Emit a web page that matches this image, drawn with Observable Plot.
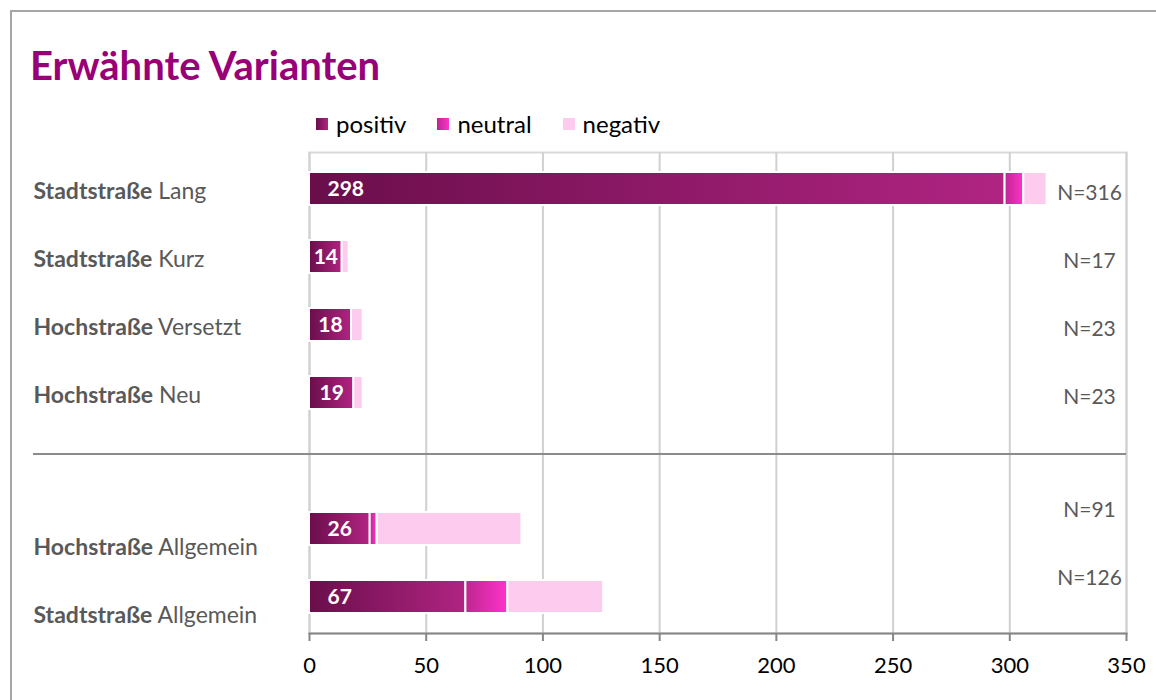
<!DOCTYPE html>
<html>
<head>
<meta charset="utf-8">
<script src="https://cdn.jsdelivr.net/npm/d3@7"></script>
<script src="https://cdn.jsdelivr.net/npm/@observablehq/plot@0.6"></script>
<style>
  body { margin: 0; background: #fff; font-family: Lato, "Open Sans", sans-serif; }
  #wrap { position: relative; width: 1156px; height: 700px; overflow: hidden; }
  #frame { position: absolute; left: 10px; top: 10px; width: 1300px; height: 900px; border: 2px solid #a6a6a6; box-sizing: border-box; }
  #title { position: absolute; left: 30px; top: 45px; font-size: 40px; font-weight: bold; color: #990077; line-height: 1; }
  #legend { position: absolute; left: 316px; top: 112px; font-size: 24px; color: #000; display: flex; line-height: 1; }
  #legend .item { display: flex; align-items: center; margin-right: 31px; }
  #legend .sw { width: 12px; height: 12px; margin-right: 8px; }
  #chart { position: absolute; left: 0; top: 140px; }
</style>
</head>
<body>
<div id="wrap">
  <div id="frame"></div>
  <div id="title">Erwähnte Varianten</div>
  <div id="legend"></div>
  <div id="chart"></div>
</div>
<script>
// ---- data ----
const categories = ["Stadtstraße Lang", "Stadtstraße Kurz", "Hochstraße Versetzt", "Hochstraße Neu", "Hochstraße Allgemein", "Stadtstraße Allgemein"];
const groups = ["oben", "oben", "oben", "oben", "unten", "unten"];
const positiv = [298, 14, 18, 19, 26, 67];
const neutral = [8, 0, 0, 0, 3, 18];
const negativ = [10, 3, 5, 4, 62, 41];
const totals = [316, 17, 23, 23, 91, 126];
const sentiments = ["positiv", "neutral", "negativ"];
const xTicks = [0, 50, 100, 150, 200, 250, 300, 350];

// ---- styles ----
const gradColors = {
  positiv: ["#6a0e4b", "#b02482"],
  neutral: ["#bd2690", "#ff33cc"],
  negativ: ["#fdcbee", "#fdcbee"]
};
const gradId = {positiv: "gPos", neutral: "gNeu", negativ: "gNeg"};
const SPACER = "";

const rows = categories.map((c, i) => ({cat: c, group: groups[i], pos: positiv[i], neu: neutral[i], neg: negativ[i], total: totals[i]}));
const bars = rows.flatMap(r => [
  {cat: r.cat, s: "positiv", value: r.pos},
  {cat: r.cat, s: "neutral", value: r.neu},
  {cat: r.cat, s: "negativ", value: r.neg}
]).filter(d => d.value > 0);

const yDomain = [...categories.slice(0, 4), SPACER, ...categories.slice(4)];

// legend
const legend = d3.select("#legend");
sentiments.forEach(s => {
  const it = legend.append("div").attr("class", "item");
  it.append("div").attr("class", "sw").style("background", `linear-gradient(to right, ${gradColors[s][0]}, ${gradColors[s][1]})`);
  it.append("span").text(s);
});

const plot = Plot.plot({
  width: 1156,
  height: 560,
  marginLeft: 309,
  marginRight: 30,
  marginTop: 12,
  marginBottom: 67,
  style: {fontFamily: "Lato, 'Open Sans', sans-serif", background: "transparent", overflow: "visible"},
  x: {domain: [0, 350], ticks: xTicks, label: null},
  y: {domain: yDomain, axis: null, paddingInner: 0.52, paddingOuter: 0.25},
  color: {type: "identity"},
  marks: [
    Plot.frame({stroke: "#d9d9d9", strokeWidth: 2}),
    Plot.gridX(xTicks, {stroke: "#d0d0d0", strokeOpacity: 1, strokeWidth: 2}),
    Plot.ruleY([SPACER], {stroke: "#8c8c8c", strokeWidth: 2, insetLeft: -276, dy: -7}),
    Plot.barX(bars, Plot.stackX({x: "value", y: "cat", fill: d => `url(#${gradId[d.s]})`, stroke: "white", strokeWidth: 2, order: sentiments})),
    Plot.frame({anchor: "bottom", stroke: "#868686", strokeWidth: 2}),
    Plot.axisX(xTicks, {tickSize: 8, tickPadding: 16, fontSize: 22, stroke: "#868686", strokeWidth: 2, fill: "black", label: null}),
    Plot.text(rows.filter(r => r.pos >= 20), {x: 0, y: "cat", text: d => String(d.pos), dx: 18, textAnchor: "start", fill: "white", fontWeight: "bold", fontSize: 21}),
    Plot.text(rows.filter(r => r.pos < 20), {x: d => d.pos / 2, y: "cat", text: d => String(d.pos), textAnchor: "middle", fill: "white", fontWeight: "bold", fontSize: 21}),
    Plot.text(rows.filter(r => r.group === "oben"), {y: "cat", text: "cat", frameAnchor: "left", dx: -276, dy: 3, textAnchor: "start", fill: "#595959", fontSize: 23}),
    Plot.text(rows.filter(r => r.group === "unten"), {y: "cat", text: "cat", frameAnchor: "left", dx: -276, dy: 19, textAnchor: "start", fill: "#595959", fontSize: 23}),
    Plot.text(rows.filter(r => r.group === "oben"), {y: "cat", text: d => "N=" + d.total, frameAnchor: "right", dx: -37, dy: 4, textAnchor: "middle", fill: "#595959", fontSize: 21}),
    Plot.text(rows.filter(r => r.group === "unten"), {y: "cat", text: d => "N=" + d.total, frameAnchor: "right", dx: -37, dy: -19, textAnchor: "middle", fill: "#595959", fontSize: 21})
  ]
});

const svg = d3.select(plot);
const defs = svg.insert("defs", ":first-child");
sentiments.forEach(s => {
  const g = defs.append("linearGradient").attr("id", gradId[s]).attr("x1", "0").attr("x2", "1").attr("y1", "0").attr("y2", "0");
  g.append("stop").attr("offset", "0").attr("stop-color", gradColors[s][0]);
  g.append("stop").attr("offset", "1").attr("stop-color", gradColors[s][1]);
});
svg.selectAll("text").filter(function() { return categories.includes(this.textContent); }).each(function() {
  const t = d3.select(this);
  const full = this.textContent;
  const k = full.indexOf(" ");
  t.text(null);
  t.append("tspan").attr("font-weight", "bold").text(full.slice(0, k));
  t.append("tspan").text(full.slice(k));
});
document.getElementById("chart").appendChild(plot);
</script>
</body>
</html>
